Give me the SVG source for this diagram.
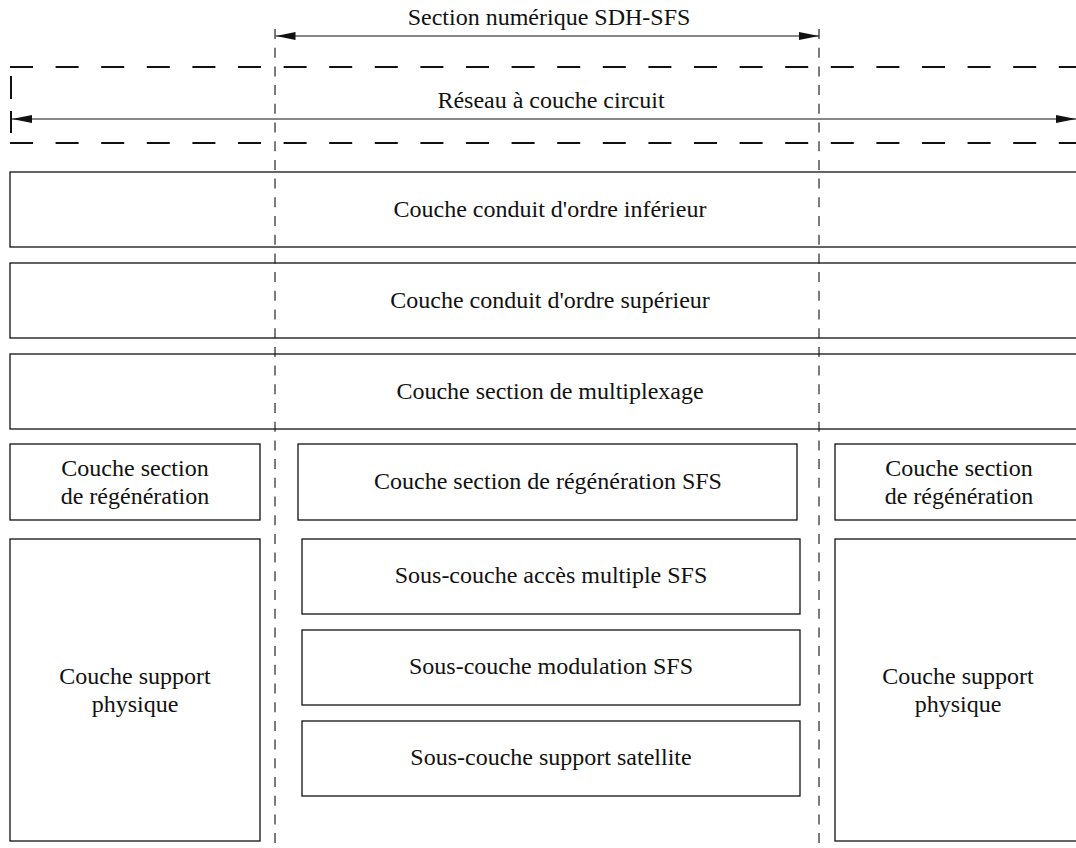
<svg xmlns="http://www.w3.org/2000/svg" width="1076" height="848" viewBox="0 0 1076 848">
<style>
  .box { fill: none; stroke: #111; stroke-width: 1.3; }
  .t { font-family: "Liberation Serif", "Times New Roman", serif; font-size: 24px; fill: #111; text-anchor: middle; }
  .hdash { stroke: #111; stroke-width: 2.2; stroke-dasharray: 23 22.6; fill: none; }
  .vdash { stroke: #111; stroke-width: 1.1; stroke-dasharray: 10 8.7; fill: none; }
  .arr { stroke: #111; stroke-width: 1.2; fill: none; marker-start: url(#ah); marker-end: url(#ah); }
</style>
<defs>
  <marker id="ah" markerUnits="userSpaceOnUse" markerWidth="20" markerHeight="8" refX="20" refY="4" orient="auto-start-reverse" viewBox="0 0 20 8">
    <path d="M0,0 L20,4 L0,8 z" fill="#111"/>
  </marker>
</defs>
<rect width="1076" height="848" fill="#fff"/>

<g id="label-sdh">
  <text class="t" x="549" y="25">Section numérique SDH-SFS</text>
</g>
<g id="label-reseau">
  <text class="t" x="551" y="108">Réseau à couche circuit</text>
</g>

<g id="n-conduit-inf">
  <rect class="box" x="10" y="172" width="1080" height="75"/>
  <text class="t" x="550" y="217">Couche conduit d'ordre inférieur</text>
</g>
<g id="n-conduit-sup">
  <rect class="box" x="10" y="263" width="1080" height="75"/>
  <text class="t" x="550" y="308">Couche conduit d'ordre supérieur</text>
</g>
<g id="n-multiplex">
  <rect class="box" x="10" y="354" width="1080" height="75"/>
  <text class="t" x="550" y="399">Couche section de multiplexage</text>
</g>

<g id="n-regen-left">
  <rect class="box" x="10" y="444" width="250" height="76"/>
  <text class="t" x="135" y="476">Couche section</text>
  <text class="t" x="135" y="504">de régénération</text>
</g>
<g id="n-regen-sfs">
  <rect class="box" x="298" y="444" width="499" height="76"/>
  <text class="t" x="548" y="489">Couche section de régénération SFS</text>
</g>
<g id="n-regen-right">
  <rect class="box" x="835" y="444" width="250" height="76"/>
  <text class="t" x="959" y="476">Couche section</text>
  <text class="t" x="959" y="504">de régénération</text>
</g>

<g id="n-phys-left">
  <rect class="box" x="10" y="539" width="250" height="302"/>
  <text class="t" x="135" y="684">Couche support</text>
  <text class="t" x="135" y="712">physique</text>
</g>
<g id="n-acces">
  <rect class="box" x="302" y="539" width="498" height="75"/>
  <text class="t" x="551" y="583">Sous-couche accès multiple SFS</text>
</g>
<g id="n-modulation">
  <rect class="box" x="302" y="630" width="498" height="75"/>
  <text class="t" x="551" y="674">Sous-couche modulation SFS</text>
</g>
<g id="n-satellite">
  <rect class="box" x="302" y="721" width="498" height="75"/>
  <text class="t" x="551" y="765">Sous-couche support satellite</text>
</g>
<g id="n-phys-right">
  <rect class="box" x="835" y="539" width="250" height="302"/>
  <text class="t" x="958" y="684">Couche support</text>
  <text class="t" x="958" y="712">physique</text>
</g>

<g id="connectors">
  <line class="hdash" x1="10" y1="67" x2="1076" y2="67"/>
  <line class="hdash" x1="10" y1="143" x2="1076" y2="143"/>
  <line x1="11" y1="76" x2="11" y2="99" stroke="#111" stroke-width="2"/>
  <line x1="11" y1="111" x2="11" y2="133" stroke="#111" stroke-width="2"/>
  <line class="vdash" x1="275" y1="29" x2="275" y2="848"/>
  <line class="vdash" x1="819" y1="29" x2="819" y2="848"/>
  <line class="arr" x1="275.5" y1="36" x2="819" y2="36"/>
  <line class="arr" x1="12" y1="119" x2="1076" y2="119"/>
</g>
</svg>
